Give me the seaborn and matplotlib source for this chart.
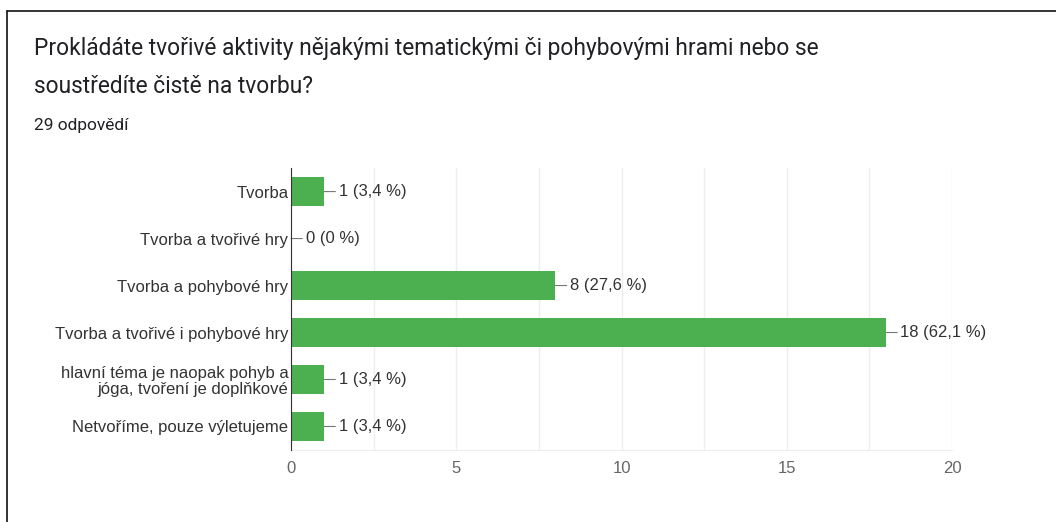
import matplotlib
matplotlib.use("Agg")
import matplotlib.pyplot as plt
import seaborn as sns
import pandas as pd
from matplotlib.lines import Line2D

categories = [
    "Tvorba",
    "Tvorba a tvořivé hry",
    "Tvorba a pohybové hry",
    "Tvorba a tvořivé i pohybové hry",
    "hlavní téma je naopak pohyb a\njóga, tvoření je doplňkové",
    "Netvoříme, pouze výletujeme",
]
counts = [1, 0, 8, 18, 1, 1]
percents = ["3,4", "0", "27,6", "62,1", "3,4", "3,4"]
x_ticks = [0, 5, 10, 15, 20]
title_lines = [
    "Prokládáte tvořivé aktivity nějakými tematickými či pohybovými hrami nebo se",
    "soustředíte čistě na tvorbu?",
]
subtitle = "29 odpovědí"

df = pd.DataFrame({"cat": categories, "count": counts})

sns.set_style("white")
plt.rcParams["font.family"] = ["Liberation Sans", "DejaVu Sans"]

fig = plt.figure(figsize=(10.56, 5.22), dpi=100)
ax = fig.add_axes([0.2756, 0.138, 0.6259, 0.540])

sns.barplot(data=df, y="cat", x="count", orient="h", color="#4caf50",
            saturation=1, width=0.6, ax=ax, zorder=3)
for p in ax.patches:
    p.set_edgecolor("none")

ax.set_xlim(0, 20)
ax.set_ylim(len(categories) - 0.5, -0.5)
ax.set_xticks(x_ticks)
ax.set_xticks([2.5, 7.5, 12.5, 17.5], minor=True)
ax.set_xticklabels([str(t) for t in x_ticks], color="#666666", fontsize=12)
ax.grid(axis="x", which="both", color="#eeeeee", linewidth=1, zorder=0)
ax.tick_params(axis="x", which="both", length=0, pad=8)
ax.tick_params(axis="y", length=0, pad=2, labelsize=12, labelcolor="#333333")
for lbl in ax.get_yticklabels():
    lbl.set_linespacing(1.05)
ax.set_xlabel("")
ax.set_ylabel("")

for s in ["top", "right"]:
    ax.spines[s].set_visible(False)
ax.spines["bottom"].set_color("#eeeeee")
ax.spines["left"].set_color("#333333")
ax.spines["left"].set_zorder(5)

for i, (c, pc) in enumerate(zip(counts, percents)):
    ax.annotate(f"{c} ({pc} %)", xy=(c, i), xytext=(10.5, 0),
                textcoords="offset points", va="center", ha="left",
                fontsize=12, color="#333333",
                arrowprops=dict(arrowstyle="-", color="#777777", lw=0.8,
                                shrinkA=0, shrinkB=0))

fig.text(0.032, 0.908, title_lines[0], fontsize=16.4, color="#202124",
         family=["Roboto", "DejaVu Sans"], va="center", ha="left")
fig.text(0.032, 0.835, title_lines[1], fontsize=16.4, color="#202124",
         family=["Roboto", "DejaVu Sans"], va="center", ha="left")
fig.text(0.032, 0.760, subtitle, fontsize=12.5, color="#202124",
         family=["Roboto", "DejaVu Sans"], va="center", ha="left")

fig.add_artist(Line2D([0.0071, 1.0], [0.979, 0.979], color="#111111",
                      linewidth=1.2, transform=fig.transFigure))
fig.add_artist(Line2D([0.0071, 0.0071], [0.0, 0.979], color="#111111",
                      linewidth=1.2, transform=fig.transFigure))

fig.savefig("out.png", dpi=100)
